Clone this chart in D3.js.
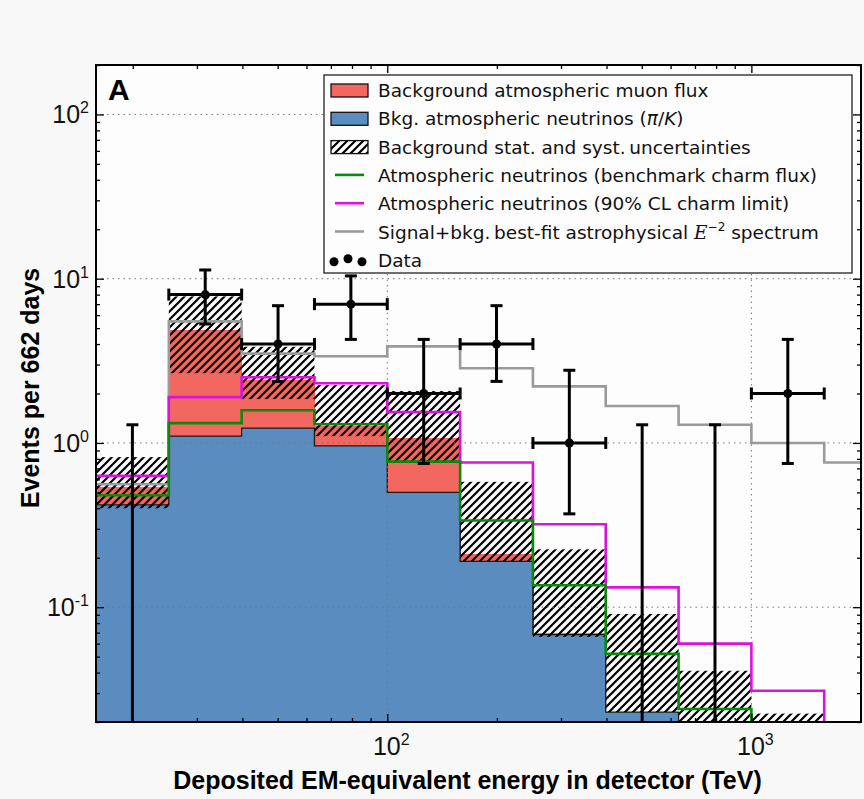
<!DOCTYPE html>
<html>
<head>
<meta charset="utf-8">
<script src="https://cdn.jsdelivr.net/npm/d3@7"></script>
<style>
  body { margin: 0; background: #f8f8f8; }
  svg { display: block; }
</style>
</head>
<body>
<svg id="histChart"></svg>
<script>
// 1: DATA (bins are 0.2 decades wide)
const binEdges = [15.85, 25.12, 39.81, 63.10, 100, 158.5, 251.2, 398.1, 631.0, 1000, 1585, 2512];
const atmNeutrinos = [0.42, 1.10, 1.23, 0.96, 0.50, 0.19, 0.068, 0.023, 0.012, 0.006, 0.003];
const muonFlux = [0.12, 3.8, 1.17, 0.31, 0.57, 0.02, 0.002, 0, 0, 0, 0];
const uncLow = [0.40, 2.66, 1.85, 1.10, 0.76, 0.19, 0.066, 0.023, 0.010, 0.005, 0.002];
const uncHigh = [0.82, 7.8, 3.85, 2.25, 2.07, 0.58, 0.225, 0.091, 0.041, 0.0225, 0.01];
const charmBenchmark = [0.48, 1.32, 1.58, 1.30, 0.77, 0.337, 0.136, 0.052, 0.024, 0.011, 0.005];
const charmLimit = [0.63, 1.90, 2.51, 2.31, 1.54, 0.76, 0.32, 0.132, 0.060, 0.031, 0.012];
const signalFit = [0.56, 5.5, 3.5, 3.37, 3.87, 2.85, 2.21, 1.68, 1.29, 1.0, 0.76];
const dataCounts = [0, 8, 4, 7, 2, 4, 1, 0, 0, 2];
const dataErrLow = [null, 5.3, 2.37, 4.27, 0.75, 2.37, 0.37, null, null, 0.75];
const dataErrHigh = [1.29, 11.3, 6.85, 10.4, 4.27, 6.85, 2.77, 1.29, 1.29, 4.27];
const xTickValues = [100, 1000];
const yTickValues = [0.1, 1, 10, 100];

const red = "#f2675f";
const blue = "#5a8cbf";
const green = "#0a8a0a";
const magenta = "#dd11dd";
const grey = "#9a9a9a";

// 2: SET GLOBAL VARIABLES
const margin = { top: 65, right: 3, bottom: 77, left: 96 };
const width = 864 - margin.left - margin.right;
const height = 799 - margin.top - margin.bottom;

const svgRoot = d3.select("#histChart")
    .attr("width", width + margin.left + margin.right)
    .attr("height", height + margin.top + margin.bottom);

const svg = svgRoot.append("g")
    .attr("transform", `translate(${margin.left},${margin.top})`);

const defs = svgRoot.append("defs");
defs.append("clipPath").attr("id", "plotClip")
    .append("rect").attr("width", width).attr("height", height);

const hatch = defs.append("pattern")
    .attr("id", "hatch")
    .attr("patternUnits", "userSpaceOnUse")
    .attr("width", 8).attr("height", 8);
hatch.append("path")
    .attr("d", "M-2,2 l4,-4 M0,8 l8,-8 M6,10 l4,-4")
    .attr("stroke", "#000").attr("stroke-width", 2.2);

// 3: SCALES
const x = d3.scaleLog().domain([binEdges[0], 2000]).range([0, width]);
const y = d3.scaleLog().domain([0.02, 200]).range([height, 0]);
const yv = v => y(Math.max(v, 0.001));

const bins = binEdges.slice(0, -1).map((lo, i) => ({
    i, lo, hi: binEdges[i + 1],
    atm: atmNeutrinos[i], muon: muonFlux[i],
    low: uncLow[i], high: uncHigh[i]
}));

svg.append("rect").attr("width", width).attr("height", height).attr("fill", "#fdfdfd");

const plot = svg.append("g").attr("clip-path", "url(#plotClip)");

// 4: STACKED FILLS
plot.selectAll(".nu").data(bins).join("rect")
    .attr("x", d => x(d.lo)).attr("width", d => x(d.hi) - x(d.lo) + 0.6)
    .attr("y", d => yv(d.atm)).attr("height", d => height - yv(d.atm) + 5)
    .attr("fill", blue).attr("shape-rendering", "crispEdges");

plot.selectAll(".mu").data(bins.filter(d => d.muon > 0)).join("rect")
    .attr("x", d => x(d.lo)).attr("width", d => x(d.hi) - x(d.lo) + 0.6)
    .attr("y", d => yv(d.atm + d.muon)).attr("height", d => yv(d.atm) - yv(d.atm + d.muon))
    .attr("fill", red).attr("shape-rendering", "crispEdges");

const stepLine = vals => {
    const pts = bins.map((b, i) => [x(b.lo), yv(vals[i])]);
    pts.push([x(bins[bins.length - 1].hi), yv(vals[vals.length - 1])]);
    return d3.line().curve(d3.curveStepAfter)(pts);
};

plot.append("path")
    .attr("d", stepLine(atmNeutrinos))
    .attr("fill", "none").attr("stroke", "#1a1a1a").attr("stroke-width", 1.3);

// uncertainty band
plot.selectAll(".unc").data(bins).join("rect")
    .attr("x", d => x(d.lo)).attr("width", d => x(d.hi) - x(d.lo))
    .attr("y", d => yv(d.high)).attr("height", d => yv(d.low) - yv(d.high))
    .attr("fill", "url(#hatch)");

// 5: GRID
plot.selectAll(".gy").data(yTickValues).join("line")
    .attr("x1", 0).attr("x2", width).attr("y1", d => y(d)).attr("y2", d => y(d))
    .attr("stroke", "#777").attr("stroke-width", 1).attr("stroke-dasharray", "1.5,4");
plot.selectAll(".gx").data(xTickValues).join("line")
    .attr("x1", d => x(d)).attr("x2", d => x(d)).attr("y1", 0).attr("y2", height)
    .attr("stroke", "#777").attr("stroke-width", 1).attr("stroke-dasharray", "1.5,4");

// 6: STEP LINES
[[signalFit, grey], [charmLimit, magenta], [charmBenchmark, green]].forEach(([vals, col]) => {
    plot.append("path")
        .attr("d", stepLine(vals))
        .attr("fill", "none").attr("stroke", col).attr("stroke-width", 2.6);
});

// 7: DATA POINTS WITH ERROR BARS
const pts = dataCounts.map((c, i) => ({
    c, lo: binEdges[i], hi: binEdges[i + 1],
    cx: x(Math.sqrt(binEdges[i] * binEdges[i + 1])),
    eLow: dataErrLow[i], eHigh: dataErrHigh[i]
}));
const ebar = plot.append("g").attr("stroke", "#000").attr("stroke-width", 3).attr("fill", "none");
pts.forEach(p => {
    const yTop = y(p.eHigh);
    const yBot = p.eLow ? y(p.eLow) : height + 5;
    ebar.append("line").attr("x1", p.cx).attr("x2", p.cx).attr("y1", yTop).attr("y2", yBot);
    ebar.append("line").attr("x1", p.cx - 6).attr("x2", p.cx + 6).attr("y1", yTop).attr("y2", yTop);
    if (p.eLow) {
        ebar.append("line").attr("x1", p.cx - 6).attr("x2", p.cx + 6).attr("y1", yBot).attr("y2", yBot);
    }
    if (p.c > 0) {
        const yc = y(p.c);
        ebar.append("line").attr("x1", x(p.lo)).attr("x2", x(p.hi)).attr("y1", yc).attr("y2", yc);
        ebar.append("line").attr("x1", x(p.lo)).attr("x2", x(p.lo)).attr("y1", yc - 6).attr("y2", yc + 6);
        ebar.append("line").attr("x1", x(p.hi)).attr("x2", x(p.hi)).attr("y1", yc - 6).attr("y2", yc + 6);
        plot.append("circle").attr("cx", p.cx).attr("cy", yc).attr("r", 4.5).attr("fill", "#000");
    }
});

// 8: AXES (ticks point inward)
const yMinor = [];
[0.01, 0.1, 1, 10, 100].forEach(d => d3.range(2, 10).forEach(m => {
    const v = m * d;
    if (v >= 0.02 && v <= 200) yMinor.push(v);
}));
const xMinor = [];
[10, 100, 1000].forEach(d => d3.range(2, 10).forEach(m => {
    const v = m * d;
    if (v > binEdges[0] && v < 2000) xMinor.push(v);
}));

const addAxis = (axisFn, scale, vals, size, transform) => {
    const g = svg.append("g")
        .attr("transform", transform)
        .call(axisFn(scale).tickValues(vals).tickSizeInner(-size).tickSizeOuter(0).tickFormat(""));
    g.select(".domain").remove();
    g.selectAll("line").attr("stroke", "#000").attr("stroke-width", 1.3);
    return g;
};
addAxis(d3.axisLeft, y, yMinor, 4, null);
addAxis(d3.axisRight, y, yMinor, 4, `translate(${width},0)`);
addAxis(d3.axisLeft, y, yTickValues, 8, null);
addAxis(d3.axisRight, y, yTickValues, 8, `translate(${width},0)`);
addAxis(d3.axisBottom, x, xMinor, 4, `translate(0,${height})`);
addAxis(d3.axisTop, x, xMinor, 4, null);
addAxis(d3.axisBottom, x, xTickValues, 8, `translate(0,${height})`);
addAxis(d3.axisTop, x, xTickValues, 8, null);

svg.append("rect").attr("width", width).attr("height", height)
    .attr("fill", "none").attr("stroke", "#000").attr("stroke-width", 2);

// tick labels as 10^n
const tickFont = "'Liberation Sans', Arial, sans-serif";
const powLabel = (sel, v) => {
    sel.append("tspan").text("10");
    sel.append("tspan").attr("dy", -10).attr("font-size", 16).text(Math.round(Math.log10(v)));
};
yTickValues.forEach(v => {
    const t = svg.append("text")
        .attr("x", -7).attr("y", y(v) + 9)
        .attr("text-anchor", "end")
        .attr("font-family", tickFont).attr("font-size", 25).attr("fill", "#111");
    powLabel(t, v);
});
xTickValues.forEach(v => {
    const t = svg.append("text")
        .attr("x", x(v) + 4).attr("y", height + 33)
        .attr("text-anchor", "middle")
        .attr("font-family", tickFont).attr("font-size", 25).attr("fill", "#111");
    powLabel(t, v);
});

// 9: AXIS LABELS & PANEL LETTER
svg.append("text")
    .attr("x", width / 2 - 11).attr("y", height + 67)
    .attr("text-anchor", "middle")
    .attr("font-family", tickFont).attr("font-weight", "bold").attr("font-size", 25)
    .text("Deposited EM-equivalent energy in detector (TeV)");

svg.append("text")
    .attr("transform", "rotate(-90)")
    .attr("x", -(388 - margin.top)).attr("y", -57)
    .attr("text-anchor", "middle")
    .attr("font-family", tickFont).attr("font-weight", "bold").attr("font-size", 25)
    .text("Events per 662 days");

svg.append("text")
    .attr("x", 12).attr("y", 35)
    .attr("font-family", tickFont).attr("font-weight", "bold").attr("font-size", 30)
    .text("A");

// 10: LEGEND
const legend = svgRoot.append("g").attr("font-family", "'DejaVu Sans', sans-serif").attr("font-size", 18.5);
legend.append("rect")
    .attr("x", 324).attr("y", 75).attr("width", 528).attr("height", 198)
    .attr("fill", "#fdfdfd").attr("stroke", "#222").attr("stroke-width", 1.3);

const rowY = i => 90 + i * 28.3;
const legendLabels = [
    "Background atmospheric muon flux",
    "Bkg. atmospheric neutrinos (",
    "Background stat. and syst.\u2009uncertainties",
    "Atmospheric neutrinos (benchmark charm flux)",
    "Atmospheric neutrinos (90% CL charm limit)",
    "Signal+bkg.\u2009best-fit astrophysical ",
    "Data"
];
[red, blue, "url(#hatch)"].forEach((f, i) => {
    legend.append("rect")
        .attr("x", 331).attr("y", rowY(i) - 6).attr("width", 37).attr("height", 13)
        .attr("fill", f).attr("stroke", "#111").attr("stroke-width", 1.3);
});
[green, magenta, grey].forEach((c, j) => {
    legend.append("line")
        .attr("x1", 335).attr("x2", 364).attr("y1", rowY(3 + j)).attr("y2", rowY(3 + j))
        .attr("stroke", c).attr("stroke-width", 2.6);
});
[[334, 2], [348, -1], [362, 2]].forEach(([cx, dy]) => {
    legend.append("circle").attr("cx", cx).attr("cy", rowY(6) + dy).attr("r", 4.5).attr("fill", "#000");
});

legendLabels.forEach((lab, i) => {
    const t = legend.append("text").attr("x", 378).attr("y", rowY(i) + 7).attr("fill", "#111").text(lab);
    if (i === 1) {
        t.append("tspan").attr("font-style", "italic").text("\u03c0");
        t.append("tspan").text("/");
        t.append("tspan").attr("font-style", "italic").text("K");
        t.append("tspan").text(")");
    }
    if (i === 5) {
        t.append("tspan").attr("font-family", "'DejaVu Serif', serif").attr("font-style", "italic").text("E");
        t.append("tspan").attr("dy", -8).attr("font-size", 12).text("\u22122");
        t.append("tspan").attr("dy", 8).text(" spectrum");
    }
});
</script>
</body>
</html>
